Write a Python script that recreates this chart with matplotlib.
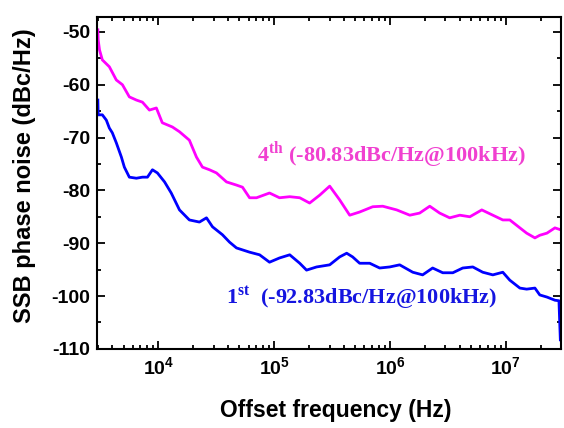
import matplotlib
matplotlib.use("Agg")
import matplotlib.pyplot as plt
from matplotlib.ticker import LogLocator, NullFormatter, MultipleLocator

plt.rcParams['mathtext.fontset'] = 'custom'
plt.rcParams['mathtext.bf'] = 'Liberation Serif:bold'
plt.rcParams['mathtext.rm'] = 'Liberation Serif:bold'
plt.rcParams['mathtext.sf'] = 'Liberation Sans:bold'
plt.rcParams['axes.unicode_minus'] = False

# 4th harmonic trace (magenta)
freq_4th = [3.0e3, 3.02e3, 3.1e3, 3.28e3, 3.77e3, 4.33e3, 4.89e3, 5.61e3, 6.45e3, 7.28e3,
            8.36e3, 9.6e3, 1.08e4, 1.32e4, 1.52e4, 1.85e4, 2.13e4, 2.4e4, 2.76e4, 3.17e4,
            3.87e4, 4.72e4, 5.32e4, 6.12e4, 7.03e4, 9.1e4, 1.11e5, 1.36e5, 1.66e5, 2.02e5,
            2.47e5, 3.01e5, 3.67e5, 4.48e5, 5.46e5, 7.08e5, 8.64e5, 1.14e6, 1.48e6, 1.8e6,
            2.2e6, 2.68e6, 3.27e6, 4.0e6, 4.88e6, 6.19e6, 7.71e6, 9.4e6, 1.08e7, 1.32e7,
            1.51e7, 1.78e7, 1.96e7, 2.26e7, 2.65e7, 3.0e7]
pn_4th = [-49.6, -51.5, -53.4, -55.3, -56.6, -59.1, -60.0, -62.3, -62.9, -63.3,
          -64.8, -64.4, -67.2, -68.0, -68.9, -70.5, -73.7, -75.6, -76.1, -76.7,
          -78.4, -79.0, -79.4, -81.4, -81.4, -80.5, -81.4, -81.2, -81.4, -82.4,
          -80.9, -79.2, -81.8, -84.7, -84.1, -83.1, -83.0, -83.7, -84.7, -84.3,
          -83.0, -84.3, -85.2, -84.7, -85.0, -83.7, -84.7, -85.6, -85.6, -87.1,
          -88.1, -89.0, -88.5, -88.1, -87.1, -87.5]

# 1st harmonic trace (blue)
freq_1st = [3.0e3, 3.02e3, 3.28e3, 3.55e3, 3.77e3, 4.0e3, 4.33e3, 4.79e3, 5.08e3, 5.61e3,
            6.45e3, 7.28e3, 8.04e3, 8.88e3, 9.8e3, 1.13e4, 1.29e4, 1.52e4, 1.85e4, 2.26e4,
            2.6e4, 2.93e4, 3.57e4, 4.11e4, 4.72e4, 6.12e4, 7.47e4, 9.1e4, 1.11e5, 1.36e5,
            1.66e5, 1.9e5, 2.32e5, 3.01e5, 3.67e5, 4.22e5, 4.75e5, 5.46e5, 6.67e5, 8.13e5,
            9.93e5, 1.21e6, 1.57e6, 1.91e6, 2.33e6, 2.85e6, 3.48e6, 4.24e6, 5.18e6, 6.31e6,
            7.71e6, 9.4e6, 1.08e7, 1.32e7, 1.51e7, 1.78e7, 1.96e7, 2.26e7, 2.65e7, 2.87e7,
            2.95e7]
pn_1st = [-62.9, -65.7, -65.7, -66.7, -68.2, -69.1, -71.0, -73.7, -75.6, -77.5,
          -77.7, -77.5, -77.5, -76.1, -76.7, -78.4, -80.5, -83.7, -85.6, -86.0,
          -85.2, -86.9, -88.4, -89.8, -90.9, -91.7, -92.2, -93.6, -92.8, -92.2,
          -93.8, -95.1, -94.5, -94.1, -92.6, -91.9, -92.6, -93.8, -93.8, -94.7,
          -94.5, -94.1, -95.5, -96.0, -94.7, -95.6, -95.6, -94.7, -94.5, -95.5,
          -96.0, -95.5, -97.0, -98.5, -98.7, -98.5, -99.8, -100.2, -100.8, -100.9,
          -108.3]

fig, ax = plt.subplots(figsize=(5.64, 4.28), dpi=100)
fig.subplots_adjust(left=0.172, right=0.995, top=0.96, bottom=0.185)

ax.plot(freq_4th, pn_4th, color='#ff00ff', lw=2.0)
ax.plot(freq_1st, pn_1st, color='#0000ff', lw=2.0)

ax.set_xscale('log')
ax.set_xlim(2.95e3, 3.0e7)
ax.set_ylim(-110, -47.2)
ax.yaxis.set_major_locator(MultipleLocator(10))
ax.yaxis.set_minor_locator(MultipleLocator(5))
ax.xaxis.set_major_locator(LogLocator(base=10, numticks=10))
ax.xaxis.set_minor_locator(LogLocator(base=10, subs=range(2, 10), numticks=20))
ax.xaxis.set_minor_formatter(NullFormatter())

ax.tick_params(which='both', direction='in', top=True, right=True, width=1.3)
ax.tick_params(which='major', length=6, labelsize=14, pad=5)
ax.tick_params(which='minor', length=3)
for lab in ax.get_xticklabels() + ax.get_yticklabels():
    lab.set_family('Liberation Sans')
    lab.set_fontweight('bold')
for sp in ax.spines.values():
    sp.set_linewidth(1.5)

ax.set_xlabel('Offset frequency (Hz)', family='Liberation Sans', fontweight='bold',
              fontsize=16.5)
ax.xaxis.set_label_coords(0.515, -0.15)
ax.set_ylabel('SSB phase noise (dBc/Hz)', family='Liberation Sans', fontweight='bold',
              fontsize=17)
ax.yaxis.set_label_coords(-0.131, 0.521)

ax.text(7.03e4, -73.2, r'4$^{\mathbf{th}}$ (-80.83dBc/Hz@100kHz)', color='#f040d0',
        family='Liberation Serif', fontweight='bold', fontsize=16, va='center')
ax.text(3.8e4, -100.3, r'1$^{\mathbf{st}}$  (-92.83dBc/Hz@100kHz)', color='#1515e0',
        family='Liberation Serif', fontweight='bold', fontsize=16, va='center')

fig.savefig('out.png', dpi=100)
